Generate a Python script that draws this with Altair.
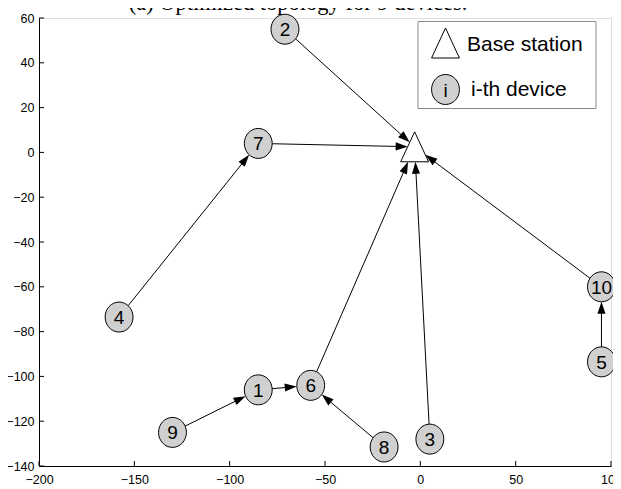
import math
import altair as alt
import pandas as pd

# ---------------- data ----------------
node_ids = ["1", "2", "3", "4", "5", "6", "7", "8", "9", "10"]
node_x = [-85, -71, 5, -158, 95, -57.5, -85, -19, -130, 95]
node_y = [-106, 55, -128, -73.5, -93.5, -104, 4, -131.5, -125, -60]
bs_x = [-3]
bs_y = [2.5]
edge_src = ["2", "7", "4", "9", "1", "6", "8", "3", "10", "5"]
edge_dst = ["BS", "BS", "7", "1", "6", "BS", "6", "BS", "BS", "10"]
x_ticks = [-200, -150, -100, -50, 0, 50, 100]
y_ticks = [-140, -120, -100, -80, -60, -40, -20, 0, 20, 40, 60]
legend_labels = ["Base station", "i-th device"]
legend_symbol_text = ["i"]
title_text = ["(a) Optimized topology for 9 devices."]

# ---------------- geometry helpers ----------------
W, H = 572, 448
XMIN, XMAX = -200, 100
YMIN, YMAX = -140, 60
kx = W / (XMAX - XMIN)
ky = H / (YMAX - YMIN)

NODE_A, NODE_B = 14.0, 15.0          # node ellipse semi axes (px)
TRI = [(0.0, -15.0), (14.0, 15.0), (-14.0, 15.0)]  # base-station triangle (px)
HEAD_LEN = 12.0


def to_px(x, y):
    return (x - XMIN) * kx, (YMAX - y) * ky


def to_data(px, py):
    return px / kx + XMIN, YMAX - py / ky


def ellipse_r(ux, uy):
    return 1.0 / math.sqrt((ux / NODE_A) ** 2 + (uy / NODE_B) ** 2)


def tri_r(vx, vy):
    best = None
    for i in range(3):
        P = TRI[i]
        Q = TRI[(i + 1) % 3]
        ex, ey = Q[0] - P[0], Q[1] - P[1]
        den = vx * ey - vy * ex
        if abs(den) < 1e-9:
            continue
        t = (P[0] * ey - P[1] * ex) / den
        s = (P[0] * vy - P[1] * vx) / den
        if t > 0 and -1e-9 <= s <= 1 + 1e-9:
            if best is None or t < best:
                best = t
    return best


pos = {nid: (x, y) for nid, x, y in zip(node_ids, node_x, node_y)}
pos["BS"] = (bs_x[0], bs_y[0])

rows = []
for s, d in zip(edge_src, edge_dst):
    sx, sy = to_px(*pos[s])
    dx_, dy_ = to_px(*pos[d])
    vx, vy = dx_ - sx, dy_ - sy
    L = math.hypot(vx, vy)
    ux, uy = vx / L, vy / L
    rs = ellipse_r(ux, uy)
    rd = tri_r(-ux, -uy) if d == "BS" else ellipse_r(ux, uy)
    x1p, y1p = sx + ux * rs, sy + uy * rs
    tipx, tipy = dx_ - ux * rd, dy_ - uy * rd
    hx, hy = tipx - ux * HEAD_LEN * 0.5, tipy - uy * HEAD_LEN * 0.5
    ang = math.degrees(math.atan2(ux, -uy)) % 360
    a1 = to_data(x1p, y1p)
    h = to_data(hx, hy)
    rows.append(dict(x1=a1[0], y1=a1[1], x2=h[0], y2=h[1], hx=h[0], hy=h[1], ang=ang))
edges = pd.DataFrame(rows)

nodes = pd.DataFrame({"x": node_x, "y": node_y, "id": node_ids})
bs = pd.DataFrame({"x": bs_x, "y": bs_y})
xt = pd.DataFrame({"xt": x_ticks})
yt = pd.DataFrame({"yt": y_ticks})
one = pd.DataFrame({"a": [0]})

# ---------------- encodings ----------------
FONT = "Liberation Sans"
xs = alt.Scale(domain=[XMIN, XMAX], nice=False, zero=False)
ys = alt.Scale(domain=[YMIN, YMAX], nice=False, zero=False)
xaxis = alt.Axis(values=x_ticks, ticks=False, grid=False, domainColor="black",
                 labelColor="black", labelFontSize=12.5, labelFont=FONT,
                 labelPadding=7, labelFlush=False, labelOverlap=False, format="d")
yaxis = alt.Axis(values=y_ticks, ticks=False, grid=False, domainColor="black",
                 labelColor="black", labelFontSize=12.5, labelFont=FONT,
                 labelPadding=5, labelFlush=False, labelOverlap=False, format="d")


def X(f):
    return alt.X(f, type="quantitative", scale=xs, axis=xaxis, title=None)


def Y(f):
    return alt.Y(f, type="quantitative", scale=ys, axis=yaxis, title=None)


ELLIPSE = "M-0.93,0 A0.93,1 0 1,0 0.93,0 A0.93,1 0 1,0 -0.93,0 Z"
TRIANGLE = "M0,-1 L0.93,1 L-0.93,1 Z"
ARROW = "M0,-1 L0.67,1 L-0.67,1 Z"

lines = alt.Chart(edges).mark_rule(color="black", strokeWidth=1).encode(
    x=X("x1"), y=Y("y1"), x2="x2", y2="y2")

heads = alt.Chart(edges).mark_point(shape=ARROW, filled=True, color="black",
                                    size=HEAD_LEN ** 2, opacity=1).encode(
    x=X("hx"), y=Y("hy"), angle=alt.Angle("ang:Q", scale=None))

node_marks = alt.Chart(nodes).mark_point(shape=ELLIPSE, filled=True, fill="#d0d0d0",
                                         stroke="black", strokeWidth=1, size=900,
                                         opacity=1).encode(x=X("x"), y=Y("y"))

node_text = alt.Chart(nodes).mark_text(font=FONT, fontSize=19, color="black",
                                       baseline="middle", dy=1).encode(
    x=X("x"), y=Y("y"), text="id:N")

bs_mark = alt.Chart(bs).mark_point(shape=TRIANGLE, filled=True, fill="white",
                                   stroke="black", strokeWidth=1, size=900,
                                   opacity=1).encode(x=X("x"), y=Y("y"))

xtick_marks = alt.Chart(xt).mark_rule(color="black", strokeWidth=1).encode(
    x=X("xt"), y=alt.value(H), y2=alt.value(H - 5))
ytick_marks = alt.Chart(yt).mark_rule(color="black", strokeWidth=1).encode(
    y=Y("yt"), x=alt.value(0), x2=alt.value(5))

# legend (drawn in pixel space of the plot area)
leg_box = alt.Chart(one).mark_rect(fill="white", stroke="#8a8a8a", strokeWidth=1).encode(
    x=alt.value(379), x2=alt.value(557), y=alt.value(3.5), y2=alt.value(90.5))
leg_tri = alt.Chart(one).mark_point(shape=TRIANGLE, filled=True, fill="white",
                                    stroke="black", strokeWidth=1, size=900,
                                    opacity=1).encode(x=alt.value(406.5), y=alt.value(25))
leg_circ = alt.Chart(one).mark_point(shape=ELLIPSE, filled=True, fill="#d0d0d0",
                                     stroke="black", strokeWidth=1, size=900,
                                     opacity=1).encode(x=alt.value(406.5), y=alt.value(71.5))
leg_i = alt.Chart(one).mark_text(font=FONT, fontSize=19, color="black",
                                 baseline="middle", dy=1).encode(
    x=alt.value(406.5), y=alt.value(71.5), text=alt.value(legend_symbol_text[0]))
leg_t1 = alt.Chart(one).mark_text(font=FONT, fontSize=21, color="black", align="left",
                                  baseline="middle").encode(
    x=alt.value(428), y=alt.value(27), text=alt.value(legend_labels[0]))
leg_t2 = alt.Chart(one).mark_text(font=FONT, fontSize=21, color="black", align="left",
                                  baseline="middle").encode(
    x=alt.value(432), y=alt.value(72), text=alt.value(legend_labels[1]))

# figure title (partially cropped at the top, as in the reference)
title_mark = alt.Chart(one).mark_text(font="Liberation Serif", fontSize=22.5, color="black",
                                      align="center", baseline="alphabetic").encode(
    x=alt.value(259), y=alt.value(-8.5), text=alt.value(title_text[0]))

chart = alt.layer(
    lines, heads, node_marks, node_text, bs_mark, xtick_marks, ytick_marks,
    leg_box, leg_tri, leg_circ, leg_i, leg_t1, leg_t2, title_mark
).properties(
    width=W, height=H,
    autosize=alt.AutoSizeParams(type="none"),
    padding={"left": 31, "top": 10, "right": 2, "bottom": 23},
).configure_view(stroke=None).configure(background="white")

chart.save("out.html", embed_options={"renderer": "svg", "actions": False})
